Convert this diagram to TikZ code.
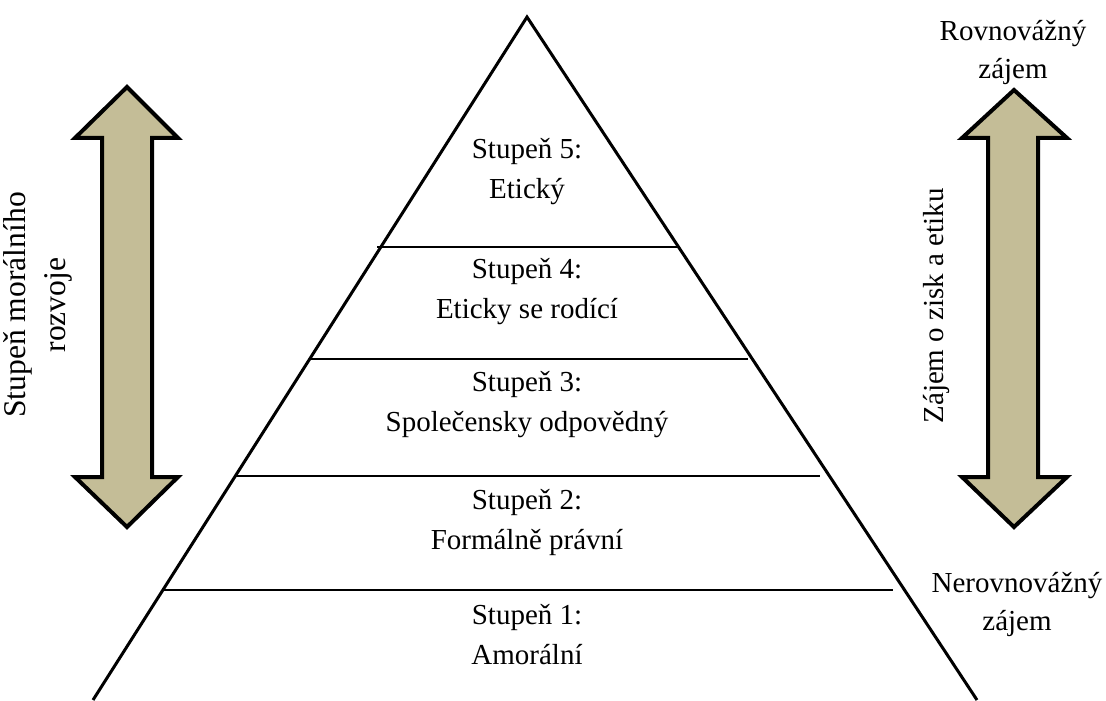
\documentclass[tikz,border=0pt]{standalone}
\usepackage{fontspec}
\setmainfont{Liberation Serif}
\usepackage{tikz}
\usetikzlibrary{positioning}
\definecolor{arrowtan}{HTML}{C4BD97}

\begin{document}
\begin{tikzpicture}[x=0.5pt, y=-0.5pt,
  level/.style={font=\fontsize{14.5}{20}\selectfont, align=center},
  side/.style={font=\fontsize{14.5}{19}\selectfont, align=center},
  bigarrow/.style={draw=black, line width=2pt, fill=arrowtan, line join=miter},
  sep/.style={line width=1pt}]
  \useasboundingbox (0,0) rectangle (1106,700);

  % Pyramid outline
  \coordinate (apex) at (527,17);
  \coordinate (bl) at (93,700);
  \coordinate (br) at (977,700);
  \draw[line width=1.5pt, line join=miter] (bl) -- (apex) -- (br);

  % Level separators
  \coordinate (s4l) at (377,247); \coordinate (s4r) at (677,247);
  \coordinate (s3l) at (310,359); \coordinate (s3r) at (748,359);
  \coordinate (s2l) at (235,476); \coordinate (s2r) at (820,476);
  \coordinate (s1l) at (163,590); \coordinate (s1r) at (893,590);
  \draw[sep] (s4l) -- (s4r);
  \draw[sep] (s3l) -- (s3r);
  \draw[sep] (s2l) -- (s2r);
  \draw[sep] (s1l) -- (s1r);

  % Levels
  \node[level] (L5) at (527,172) {Stupeň 5:\\Etický};
  \node[level] (L4) at (527,292) {Stupeň 4:\\Eticky se rodící};
  \node[level] (L3) at (527,405) {Stupeň 3:\\Společensky odpovědný};
  \node[level] (L2) at (527,522) {Stupeň 2:\\Formálně právní};
  \node[level] (L1) at (527,635) {Stupeň 1:\\Amorální};

  % Left double arrow
  \draw[bigarrow] (127,87) -- (178,138) -- (152,138) -- (152,477) -- (178,477)
    -- (127,527) -- (75,477) -- (102,477) -- (102,138) -- (75,138) -- cycle;
  \node[side, font=\fontsize{15.8}{20}\selectfont, rotate=90] (moral) at (38,305)
    {Stupeň morálního\\rozvoje};

  % Right double arrow
  \draw[bigarrow] (1014,90) -- (1067,138) -- (1038,138) -- (1038,477) -- (1067,477)
    -- (1014,527) -- (962,477) -- (988,477) -- (988,138) -- (962,138) -- cycle;
  \node[side, rotate=90] (zajem) at (936,306) {Zájem o zisk a etiku};
  \node[side] (rov) at (1013,53) {Rovnovážný\\zájem};
  \node[side] (nerov) at (1017,604) {Nerovnovážný\\zájem};
\end{tikzpicture}
\end{document}
